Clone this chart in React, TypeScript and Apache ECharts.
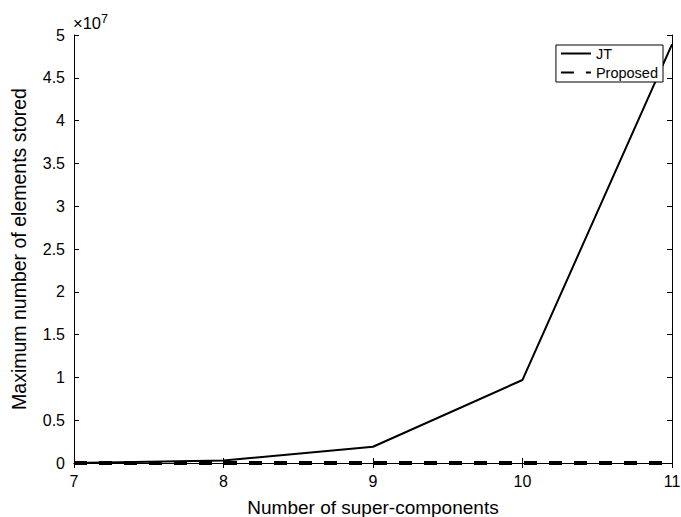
import React, { useEffect, useRef } from "react";
import * as echarts from "echarts";

const xValues = [7, 8, 9, 10, 11];
const jtValues = [0.0, 0.03, 0.19, 0.97, 4.89];
const proposedValues = [0.0, 0.0, 0.0, 0.0, 0.0];
const yTicks = [0, 0.5, 1, 1.5, 2, 2.5, 3, 3.5, 4, 4.5, 5];

const FONT = "Liberation Sans";

export default function App() {
  const ref = useRef<HTMLDivElement>(null);
  useEffect(() => {
    if (!ref.current) return;
    const chart = echarts.init(ref.current, null, { renderer: "svg" });
    const axisCommon = {
      axisLine: { show: true, lineStyle: { color: "#000", width: 1 } },
      axisTick: { show: true, inside: true, length: 5, lineStyle: { color: "#000" } },
      splitLine: { show: false },
    };
    chart.setOption({
      animation: false,
      backgroundColor: "#fff",
      grid: { left: 74, right: 9, top: 35, bottom: 54, containLabel: false, outerBoundsMode: "none" },
      xAxis: [
        {
          type: "value",
          min: 7,
          max: 11,
          interval: 1,
          ...axisCommon,
          axisLabel: { color: "#000", fontFamily: FONT, fontSize: 16, margin: 10 },
          name: "Number of super-components",
          nameLocation: "middle",
          nameGap: 35,
          nameTextStyle: { color: "#000", fontFamily: FONT, fontSize: 19 },
        },
        {
          type: "value",
          position: "top",
          min: 7,
          max: 11,
          interval: 1,
          ...axisCommon,
          axisLabel: { show: false },
        },
      ],
      yAxis: [
        {
          type: "value",
          min: 0,
          max: 5,
          interval: 0.5,
          ...axisCommon,
          axisLabel: {
            color: "#000",
            fontFamily: FONT,
            fontSize: 16,
            margin: 9,
            formatter: (v: number) => (yTicks.includes(v) ? String(v) : ""),
          },
          name: "Maximum number of elements stored",
          nameLocation: "middle",
          nameGap: 45,
          nameRotate: 90,
          nameTextStyle: { color: "#000", fontFamily: FONT, fontSize: 19.5 },
        },
        {
          type: "value",
          position: "right",
          min: 0,
          max: 5,
          interval: 0.5,
          ...axisCommon,
          axisLabel: { show: false },
        },
      ],
      legend: {
        orient: "vertical",
        right: 18,
        top: 45,
        backgroundColor: "#fff",
        borderColor: "#000",
        borderWidth: 1,
        borderRadius: 0,
        padding: [1, 5, 2, 4],
        itemGap: 4,
        itemWidth: 30,
        itemHeight: 14,
        itemStyle: { opacity: 0 },
        textStyle: { color: "#000", fontFamily: FONT, fontSize: 14.5 },
        data: ["JT", "Proposed"],
      },
      graphic: [
        {
          type: "text",
          left: 73,
          top: 12,
          style: {
            text: "×10{sup|7}",
            fill: "#000",
            font: `16.5px ${FONT}`,
            rich: {
              sup: { fontSize: 12.5, fontFamily: FONT, fill: "#000", verticalAlign: "top", padding: [0, 0, 9, 0] },
            },
          },
        },
      ],
      series: [
        {
          name: "JT",
          type: "line",
          symbol: "none",
          data: xValues.map((x, i) => [x, jtValues[i]]),
          lineStyle: { color: "#000", width: 2 },
          itemStyle: { color: "#000" },
        },
        {
          name: "Proposed",
          type: "line",
          symbol: "none",
          data: xValues.map((x, i) => [x, proposedValues[i]]),
          lineStyle: { color: "#000", width: 4, type: [13, 12] },
          itemStyle: { color: "#000" },
        },
      ],
    });
    return () => chart.dispose();
  }, []);
  return (
    <div
      ref={ref}
      style={{ position: "absolute", left: 0, top: 0, width: 681, height: 517, background: "#fff" }}
    />
  );
}
